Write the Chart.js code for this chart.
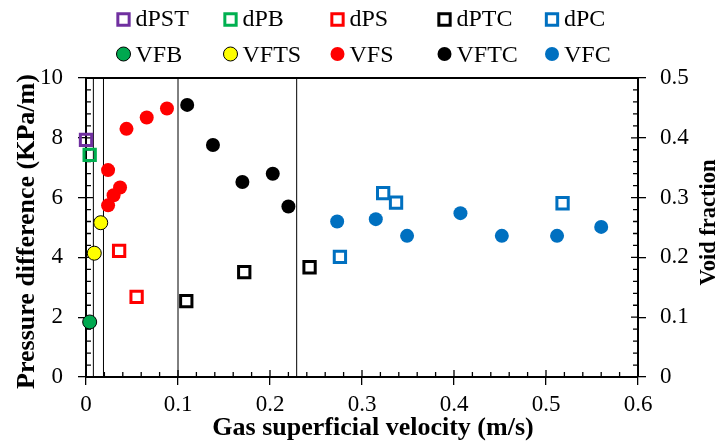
<!DOCTYPE html>
<html><head><meta charset="UTF-8">
<script src="https://cdn.jsdelivr.net/npm/chart.js"></script>
<style>
html, body { margin: 0; padding: 0; background: #fff; }
#wrap { width: 716px; height: 442px; }
</style></head><body>
<div id="wrap"><canvas id="c" width="716" height="442"></canvas></div>
<script>
// axis tick labels
const xTicks = ['0', '0.1', '0.2', '0.3', '0.4', '0.5', '0.6'];
const dpTicks = ['0', '2', '4', '6', '8', '10'];
const vfTicks = ['0', '0.1', '0.2', '0.3', '0.4', '0.5'];

// flow regime boundaries (gas superficial velocity, m/s)
const regimeLines = [0.008, 0.019, 0.1, 0.229];

// pressure difference (KPa/m) vs gas superficial velocity (m/s)
const dPST_u = [0.0],   dPST_v = [7.93];
const dPB_u  = [0.004], dPB_v  = [7.43];
const dPS_u  = [0.036, 0.055], dPS_v = [4.22, 2.68];
const dPTC_u = [0.109, 0.172, 0.243], dPTC_v = [2.54, 3.51, 3.67];
const dPC_u  = [0.276, 0.323, 0.337, 0.518], dPC_v = [4.02, 6.15, 5.83, 5.81];

// void fraction vs gas superficial velocity (m/s)
const VFB_u  = [0.004], VFB_v = [0.092];
const VFTS_u = [0.009, 0.016], VFTS_v = [0.207, 0.258];
const VFS_u  = [0.024, 0.024, 0.030, 0.037, 0.044, 0.066, 0.088];
const VFS_v  = [0.287, 0.346, 0.304, 0.317, 0.415, 0.434, 0.449];
const VFTC_u = [0.110, 0.138, 0.170, 0.203, 0.220];
const VFTC_v = [0.455, 0.388, 0.326, 0.340, 0.285];
const VFC_u  = [0.273, 0.315, 0.349, 0.407, 0.452, 0.512, 0.560];
const VFC_v  = [0.260, 0.264, 0.236, 0.274, 0.236, 0.236, 0.251];

const pts = (u, v) => u.map((x, i) => ({ x, y: v[i] }));
const SERIF = '"Liberation Serif", "Times New Roman", serif';

function sq(label, u, v, color) {
    return { label, data: pts(u, v), yAxisID: 'y', pointStyle: 'rect', pointRadius: 8, pointHoverRadius: 8,
        borderWidth: 3, borderColor: color, backgroundColor: 'rgba(0,0,0,0)', showLine: false, clip: false };
}
function dot(label, u, v, color, edge) {
    return { label, data: pts(u, v), yAxisID: 'y1', pointStyle: 'circle', pointRadius: 7, pointHoverRadius: 7,
        borderWidth: edge ? 1 : 0, borderColor: edge ? '#000' : color, backgroundColor: color, showLine: false, clip: false };
}

const markers = [
    sq('dPST', dPST_u, dPST_v, '#7030A0'),
    sq('dPB', dPB_u, dPB_v, '#00B050'),
    sq('dPS', dPS_u, dPS_v, '#FF0000'),
    sq('dPTC', dPTC_u, dPTC_v, '#000000'),
    sq('dPC', dPC_u, dPC_v, '#0070C0'),
    dot('VFB', VFB_u, VFB_v, '#00A84F', true),
    dot('VFTS', VFTS_u, VFTS_v, '#FFFF00', true),
    dot('VFS', VFS_u, VFS_v, '#FF0000', false),
    dot('VFTC', VFTC_u, VFTC_v, '#000000', false),
    dot('VFC', VFC_u, VFC_v, '#0070C0', false)
];

const lines = regimeLines.map(u => ({
    label: '', data: [{ x: u, y: 0 }, { x: u, y: 10 }], yAxisID: 'y', showLine: true,
    borderColor: '#000', borderWidth: 1, pointRadius: 0, pointHoverRadius: 0, isBoundary: true
}));

// box, inner ticks, titles and the 2-row legend
const framePlugin = {
    id: 'frame',
    beforeDatasetsDraw(chart) {
        const { ctx, chartArea: a, scales } = chart;
        ctx.save();
        ctx.strokeStyle = '#000';
        ctx.lineWidth = 1.3;
        ctx.beginPath();
        for (let i = 0; i <= 30; i++) {
            const px = scales.x.getPixelForValue(i * 0.02);
            const len = i % 5 === 0 ? 7 : 5;
            ctx.moveTo(px, a.bottom); ctx.lineTo(px, a.bottom - len);
        }
        for (let i = 0; i <= 25; i++) {
            const py = scales.y.getPixelForValue(i * 0.4);
            const len = i % 5 === 0 ? 7 : 5;
            ctx.moveTo(a.left, py); ctx.lineTo(a.left + len, py);
            ctx.moveTo(a.right, py); ctx.lineTo(a.right - len, py);
        }
        ctx.stroke();
        ctx.lineWidth = 2;
        ctx.beginPath();
        ctx.moveTo(a.left, a.top); ctx.lineTo(a.right, a.top);
        ctx.stroke();
        ctx.restore();
    },
    afterDraw(chart) {
        const { ctx } = chart;
        ctx.save();
        ctx.fillStyle = '#000';
        ctx.font = 'bold 26px ' + SERIF;
        ctx.textAlign = 'center';
        ctx.textBaseline = 'alphabetic';
        ctx.fillText('Gas superficial velocity (m/s)', 373, 435);

        ctx.save();
        ctx.translate(34, 231.5);
        ctx.rotate(-Math.PI / 2);
        ctx.fillText('Pressure difference (KPa/m)', 0, 0);
        ctx.restore();

        ctx.save();
        ctx.font = 'bold 22.5px ' + SERIF;
        ctx.translate(715, 222.5);
        ctx.rotate(-Math.PI / 2);
        ctx.fillText('Void fraction', 0, 0);
        ctx.restore();

        // legend, five columns by two rows
        const cols = [123.5, 230.5, 337.5, 444.5, 552];
        const rows = [19.5, 54];
        const base = [26, 61.5];
        ctx.font = '24px ' + SERIF;
        ctx.textAlign = 'left';
        chart.data.datasets.forEach((ds, i) => {
            if (ds.isBoundary) return;
            const cx = cols[i % 5], r = Math.floor(i / 5);
            ctx.save();
            ctx.strokeStyle = ds.borderColor;
            ctx.fillStyle = ds.backgroundColor;
            ctx.lineWidth = ds.borderWidth;
            Chart.helpers.drawPoint(ctx, { pointStyle: ds.pointStyle, radius: ds.pointRadius, borderWidth: ds.borderWidth, rotation: 0 }, cx, rows[r]);
            ctx.restore();
            ctx.fillStyle = '#000';
            ctx.fillText(ds.label, cx + 12, base[r]);
        });
        ctx.restore();
    }
};

const tickFont = { family: SERIF, size: 23 };

new Chart(document.getElementById('c'), {
    type: 'scatter',
    data: { datasets: [...markers, ...lines] },
    options: {
        responsive: false,
        animation: false,
        events: [],
        layout: { padding: { top: 78, left: 0, right: 0, bottom: 0 } },
        plugins: { legend: { display: false }, tooltip: { enabled: false } },
        scales: {
            x: {
                type: 'linear', min: 0, max: 0.6,
                ticks: { stepSize: 0.1, font: tickFont, color: '#000', padding: 6, maxRotation: 0,
                    callback: (v, i) => xTicks[i] },
                grid: { drawOnChartArea: false, drawTicks: true, tickLength: 8, color: '#000', lineWidth: 1.3 },
                border: { color: '#000', width: 2 },
                afterFit: s => { s.height = 65; }
            },
            y: {
                position: 'left', min: 0, max: 10,
                ticks: { stepSize: 2, font: tickFont, color: '#000', padding: 15,
                    callback: (v, i) => dpTicks[i] },
                grid: { drawOnChartArea: false, drawTicks: true, tickLength: 8, color: '#000', lineWidth: 1.3 },
                border: { color: '#000', width: 2 },
                afterFit: s => { s.width = 86; }
            },
            y1: {
                position: 'right', min: 0, max: 0.5,
                ticks: { stepSize: 0.1, font: tickFont, color: '#000', padding: 14,
                    callback: (v, i) => vfTicks[i] },
                grid: { drawOnChartArea: false, drawTicks: true, tickLength: 8, color: '#000', lineWidth: 1.3 },
                border: { color: '#000', width: 2 },
                afterFit: s => { s.width = 78; }
            }
        }
    },
    plugins: [framePlugin]
});
</script></body></html>
